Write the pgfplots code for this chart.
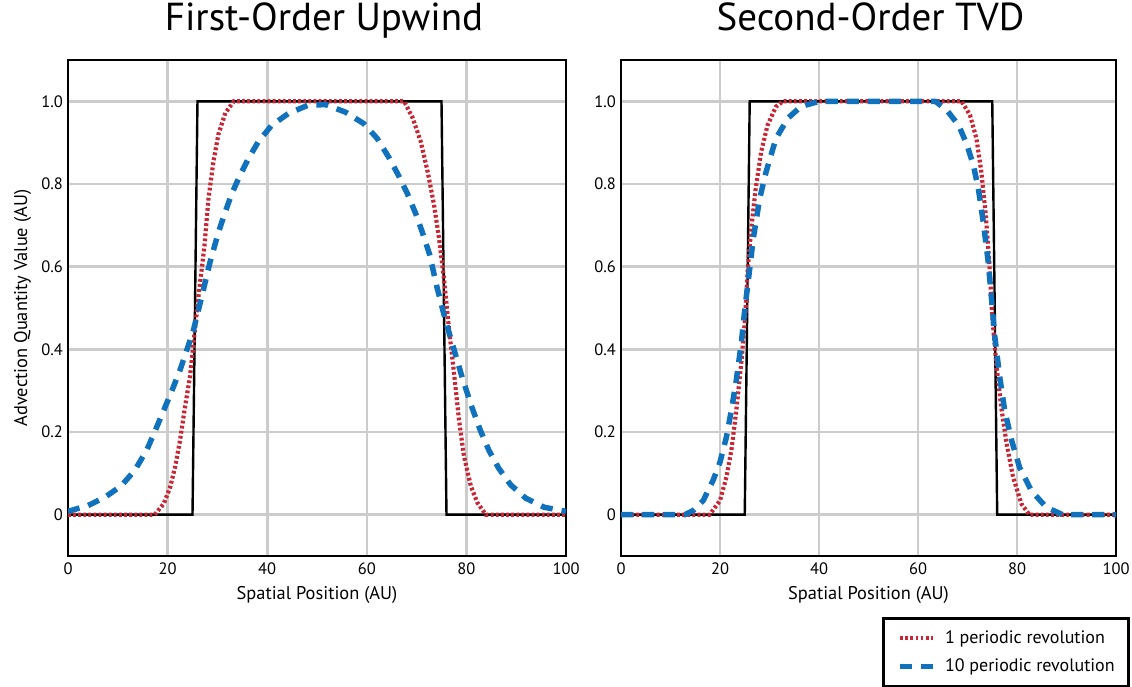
\documentclass[border=0pt]{standalone}
\usepackage{fontspec}
\setmainfont{PT Sans}
\usepackage{pgfplots}
\pgfplotsset{compat=1.18}

\definecolor{revred}{RGB}{200,38,52}
\definecolor{revblue}{RGB}{16,114,189}
\definecolor{gridgray}{RGB}{204,204,204}

\pgfplotsset{
  advstyle/.style={
    scale only axis, width=498pt, height=496pt,
    xmin=0, xmax=100, ymin=-0.1, ymax=1.1,
    xtick={0,20,40,60,80,100}, xticklabels={0,20,40,60,80,100},
    ytick={0,0.2,0.4,0.6,0.8,1.0}, yticklabels={0,0.2,0.4,0.6,0.8,1.0},
    grid=major, major grid style={gridgray, line width=2.6pt},
    major tick length=0pt, tick style={draw=none},
    axis line style={line width=2.6pt},
    /pgf/number format/assume math mode=true,
    ticklabel style={font=\fontsize{16.5}{19}\selectfont, inner sep=0pt},
    yticklabel style={xshift=-5pt},
    xticklabel style={yshift=-7pt},
    xlabel={Spatial Position (AU)},
    xlabel style={font=\fontsize{18.4}{21}\selectfont, at={(axis description cs:0.5,0)}, anchor=base, yshift=-43pt},
    title style={font=\fontsize{39}{43}\selectfont, at={(axis description cs:0.5,1)}, anchor=base, yshift=24pt},
  },
  exact/.style={black, line width=2.4pt, forget plot},
  onerev/.style={revred, line width=4.2pt, dash pattern=on 2.8pt off 2.3pt},
  tenrev/.style={revblue, line width=5.5pt, dash pattern=on 12pt off 9pt},
}

\begin{document}
\begin{tikzpicture}
\useasboundingbox (0pt,0pt) rectangle (1132pt,-686pt);

% First-order upwind scheme
\begin{axis}[advstyle, at={(68pt,-556pt)}, anchor=south west,
  title={First-Order Upwind}, title style={xshift=7pt},
  ylabel={Advection Quantity Value (AU)},
  ylabel style={font=\fontsize{18.4}{21}\selectfont, at={(axis description cs:-0.0823,0.5)}, anchor=base},
]
\addplot[exact] coordinates {(0,0) (25,0) (26,1) (75,1) (76,0) (100,0)};
\addplot[onerev] coordinates {
(0,0) (17.4,0) (19.2,0.026) (20.5,0.066) (21.5,0.115) (22.5,0.18) (23.5,0.261)
(24.5,0.334) (25.2,0.415) (26.2,0.529) (27.4,0.65) (28.2,0.764) (29.2,0.854)
(30.2,0.92) (31.6,0.972) (33.3,1.0) (67.5,1.0) (69.2,0.96) (70.8,0.904)
(72.2,0.831) (73.5,0.75) (74.5,0.669) (75.5,0.571) (76.5,0.45) (77.5,0.344)
(78.5,0.231) (79.5,0.142) (80.9,0.069) (82.2,0.029) (83.9,0) (100,0)};
\addplot[tenrev] coordinates {
(0,0.008) (4.0,0.022) (7.4,0.042) (10.7,0.07) (13.4,0.107) (15.8,0.156)
(17.4,0.2) (19.1,0.249) (20.8,0.298) (22.5,0.35) (24.1,0.407) (25.2,0.447)
(26.8,0.525) (28.5,0.61) (30.2,0.683) (31.5,0.73) (32.9,0.777) (34.5,0.82)
(36.2,0.861) (38.2,0.902) (40.9,0.942) (44.3,0.971) (48.3,0.991) (51.7,0.992)
(55.7,0.974) (59.4,0.946) (62.1,0.91) (64.4,0.865) (66.4,0.82) (68.1,0.778)
(69.8,0.729) (71.1,0.685) (72.6,0.63) (74.1,0.55) (75.8,0.47) (77.5,0.40)
(79.2,0.33) (81.1,0.26) (82.8,0.204) (84.5,0.156) (86.5,0.112) (88.9,0.072)
(91.9,0.04) (95.6,0.018) (100,0.008)};
\end{axis}

% Second-order TVD scheme
\begin{axis}[advstyle, width=495pt, at={(621pt,-556pt)}, anchor=south west,
  title={Second-Order TVD}, title style={xshift=2pt},
  legend style={at={(axis description cs:1.0283,-0.123)}, anchor=north east,
    draw=black, line width=2.6pt, font=\fontsize{18}{21}\selectfont,
    inner xsep=14pt, inner ysep=12.5pt, row sep=14pt, column sep=0pt,
    nodes={inner sep=0pt}},
  legend cell align=left,
  legend image code/.code={\draw[#1] (0pt,0pt) -- (33pt,0pt);},
]
\addplot[exact] coordinates {(0,0) (25,0) (26,1) (75,1) (76,0) (100,0)};
\addplot[onerev] coordinates {
(0,0) (17.9,0) (20,0.034) (21.3,0.091) (22.3,0.156) (23.3,0.253) (24.3,0.367)
(25.1,0.48) (25.6,0.594) (26.3,0.691) (27.2,0.788) (28.3,0.877) (29.6,0.942)
(31.3,0.987) (32.7,1.0) (68.8,1.0) (70.5,0.967) (71.8,0.91) (72.8,0.829)
(73.7,0.723) (74.4,0.61) (75.0,0.48) (75.8,0.367) (76.8,0.261) (77.9,0.172)
(79.2,0.091) (80.9,0.026) (82.5,0) (100,0)};
\addlegendentry{\hspace{9pt}1 periodic revolution}
\addplot[tenrev] coordinates {
(0,0) (12.9,0) (14.6,0.01) (16.6,0.034) (18.6,0.083) (20,0.127) (21.3,0.188)
(22.3,0.253) (23.3,0.326) (24.3,0.415) (25,0.496) (25.9,0.585) (26.7,0.666)
(28.0,0.764) (29.3,0.829) (31.3,0.91) (33.7,0.959) (36.4,0.988) (40.1,1.0)
(63.5,1.0) (65.8,0.979) (68.2,0.942) (69.8,0.898) (71.2,0.845) (72.2,0.788)
(73.2,0.707) (74.2,0.61) (74.8,0.529) (75.5,0.432) (76.5,0.334) (77.5,0.253)
(78.9,0.18) (80.5,0.115) (82.9,0.058) (85.9,0.018) (89.2,0) (100,0)};
\addlegendentry{\hspace{9pt}10 periodic revolution}
\end{axis}
\end{tikzpicture}
\end{document}
